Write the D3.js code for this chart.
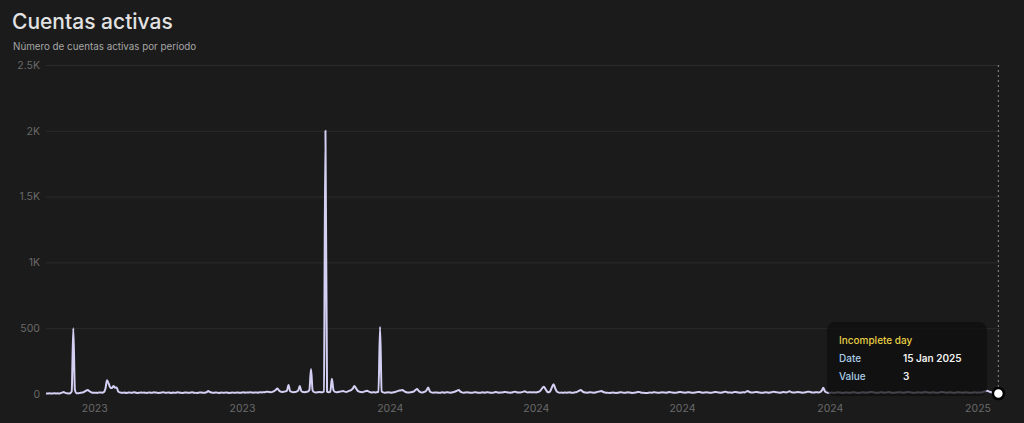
<!DOCTYPE html>
<html><head><meta charset="utf-8">
<script src="https://cdn.jsdelivr.net/npm/d3@7"></script>
<style>
html,body{margin:0;padding:0;background:#1b1b1b;}
svg{display:block;}
</style></head>
<body>
<svg id="chart" width="1024" height="423"></svg>
<script>
const title = "Cuentas activas";
const subtitle = "Número de cuentas activas por período";
const startDate = "2023-06-01";
const endDate = "2025-01-15";
const yTicks = [0, 500, 1000, 1500, 2000, 2500];
const yTickLabels = ["0", "500", "1K", "1.5K", "2K", "2.5K"];
const tooltipTitle = "Incomplete day";
const tooltipRows = [["Date", "15 Jan 2025"], ["Value", "3"]];
// daily active accounts, Jun 1 2023 .. Jan 15 2025
const values = [
4,3,5,4,3,6,4,5,3,6,10,15,8,5,4,6,20,500,30,6,5,8,10,12,18,25,30,22,14,10,
9,10,8,12,11,10,14,40,105,80,50,45,60,48,50,18,12,10,9,11,8,10,12,9,11,13,10,8,9,12,
10,11,9,8,12,10,9,13,11,10,8,9,11,14,10,9,12,10,8,11,9,10,13,11,9,8,10,12,10,9,
11,13,10,9,8,10,12,11,9,10,14,22,15,11,9,10,12,9,8,11,10,9,12,10,8,9,11,10,9,12,
10,9,11,13,10,12,11,13,12,10,11,12,10,13,12,14,13,16,18,15,14,16,22,30,42,28,18,15,17,20,
25,68,22,16,14,15,18,25,60,22,15,14,16,18,30,190,28,14,12,13,15,14,13,20,2000,18,14,16,115,30,
16,14,15,18,20,22,18,16,20,25,30,40,60,45,25,18,15,14,18,22,25,18,14,12,13,12,14,16,510,20,
12,10,11,13,12,10,12,14,18,22,26,28,30,22,15,12,11,13,15,20,30,38,25,15,12,14,18,30,50,20,
12,10,11,12,10,9,11,13,10,12,14,11,10,13,15,20,26,30,18,12,10,11,13,12,10,9,11,14,12,10,
9,11,13,10,12,14,11,10,9,12,15,13,10,11,12,14,16,13,11,10,12,15,18,14,12,11,13,16,20,15,
12,14,13,12,13,12,15,18,28,45,55,38,18,13,22,50,75,45,20,12,10,11,9,12,10,11,13,10,9,12,
14,18,25,30,20,13,11,10,12,14,11,10,12,15,18,20,22,15,12,10,9,8,10,11,9,8,10,12,14,11,
9,10,13,12,10,8,9,11,14,16,13,10,9,8,7,9,11,10,12,14,11,9,10,12,13,11,10,12,15,13,
11,10,9,12,14,16,13,11,10,12,14,12,10,9,11,13,16,15,12,10,11,13,12,10,9,11,14,16,13,11,
10,12,15,18,14,12,11,10,13,16,14,12,10,11,13,12,18,22,15,12,11,13,16,14,12,10,9,11,13,12,
10,12,14,18,15,13,11,10,12,15,14,12,16,20,14,12,11,13,15,14,12,10,11,13,16,18,15,12,11,13,
14,12,15,25,48,20,12,10,9,11,10,9,11,13,12,10,8,10,12,11,9,10,12,14,11,9,8,10,12,13,
11,10,12,14,16,13,11,10,9,12,14,12,10,11,13,15,12,10,9,11,12,14,13,11,10,12,14,16,13,11,
10,9,11,13,12,10,12,15,14,12,10,11,13,12,10,9,11,14,16,13,11,10,12,13,11,10,9,12,14,12,
11,10,12,13,11,10,9,11,13,12,10,11,12,14,18,22,25,20,15,12,10,8,6,3
];

const parse = d3.utcParse("%Y-%m-%d");
const t0 = parse(startDate), t1 = parse(endDate);
const data = values.map((v, i) => ({date: d3.utcDay.offset(t0, i), value: v}));

const svg = d3.select("#chart");
const W = 1024, H = 423;
const m = {left: 46, right: 24, top: 65, bottom: 29};
const FONT = "Inter, 'Noto Sans', sans-serif";

svg.append("rect").attr("width", W).attr("height", H).attr("fill", "#1b1b1b");

const x = d3.scaleUtc().domain([t0, t1]).range([m.left, W - m.right]);
const y = d3.scaleLinear().domain([0, 2500]).range([H - m.bottom, m.top]);

svg.append("text").attr("x", 12).attr("y", 29).text(title)
  .attr("fill", "#e2e2e2").attr("font-family", FONT)
  .attr("font-size", 21).attr("font-weight", 500);
svg.append("text").attr("x", 13).attr("y", 49.5).text(subtitle)
  .attr("fill", "#a6a6a6").attr("font-family", FONT)
  .attr("font-size", 9.8);

// grid + y labels
const yAxis = d3.axisLeft(y).tickValues(yTicks)
  .tickFormat((d, i) => yTickLabels[i]).tickSize(-(W - m.left - m.right)).tickPadding(6);
const gy = svg.append("g").attr("transform", `translate(${m.left},0)`).call(yAxis);
gy.select(".domain").remove();
gy.selectAll(".tick line").attr("stroke", "#2b2b2b").attr("stroke-width", 1)
  .filter(d => d === 0).attr("stroke", "none");
gy.selectAll(".tick text").attr("fill", "#6a6a6a").attr("font-size", 10.5)
  .attr("font-family", FONT);

// x axis
const xAxis = d3.axisBottom(x).ticks(d3.utcMonth.every(3)).tickFormat(d3.utcFormat("%Y"))
  .tickSize(0).tickPadding(11);
const gx = svg.append("g").attr("transform", `translate(0,${H - m.bottom})`).call(xAxis);
gx.select(".domain").remove();
gx.selectAll(".tick text").attr("fill", "#6a6a6a").attr("font-size", 10.5)
  .attr("font-family", FONT);

// line
const line = d3.line().x(d => x(d.date)).y(d => y(d.value)).curve(d3.curveMonotoneX);
svg.append("path").datum(data).attr("d", line)
  .attr("fill", "none").attr("stroke", "#d4d0f4").attr("stroke-width", 2)
  .attr("stroke-linejoin", "round");

// hover line
const last = data[data.length - 1];
svg.append("line").attr("x1", x(last.date)).attr("x2", x(last.date))
  .attr("y1", m.top).attr("y2", y(last.value))
  .attr("stroke", "#7a7a7a").attr("stroke-width", 1.2).attr("stroke-dasharray", "2,3");

// tooltip
const tx = 827, ty = 322, tw = 160, th = 74;
const tg = svg.append("g");
tg.append("rect").attr("x", tx).attr("y", ty).attr("width", tw).attr("height", th)
  .attr("rx", 8).attr("fill", "#0e0e0e").attr("fill-opacity", 0.72);
tg.append("text").attr("x", tx + 12).attr("y", ty + 22).text(tooltipTitle)
  .attr("fill", "#e6cf45").attr("font-size", 10).attr("font-weight", 500)
  .attr("font-family", FONT);
tooltipRows.forEach((r, i) => {
  tg.append("text").attr("x", tx + 12).attr("y", ty + 40 + i * 18).text(r[0])
    .attr("fill", "#a9cde6").attr("font-size", 10).attr("font-weight", 500)
    .attr("font-family", FONT);
  tg.append("text").attr("x", tx + 76).attr("y", ty + 40 + i * 18).text(r[1])
    .attr("fill", "#f0f0f0").attr("font-size", 10).attr("font-weight", 600)
    .attr("font-family", FONT);
});

// point marker
svg.append("circle").attr("cx", x(last.date)).attr("cy", y(last.value)).attr("r", 5.5)
  .attr("fill", "#ffffff").attr("stroke", "#000000").attr("stroke-width", 2.5);
</script>
</body></html>
